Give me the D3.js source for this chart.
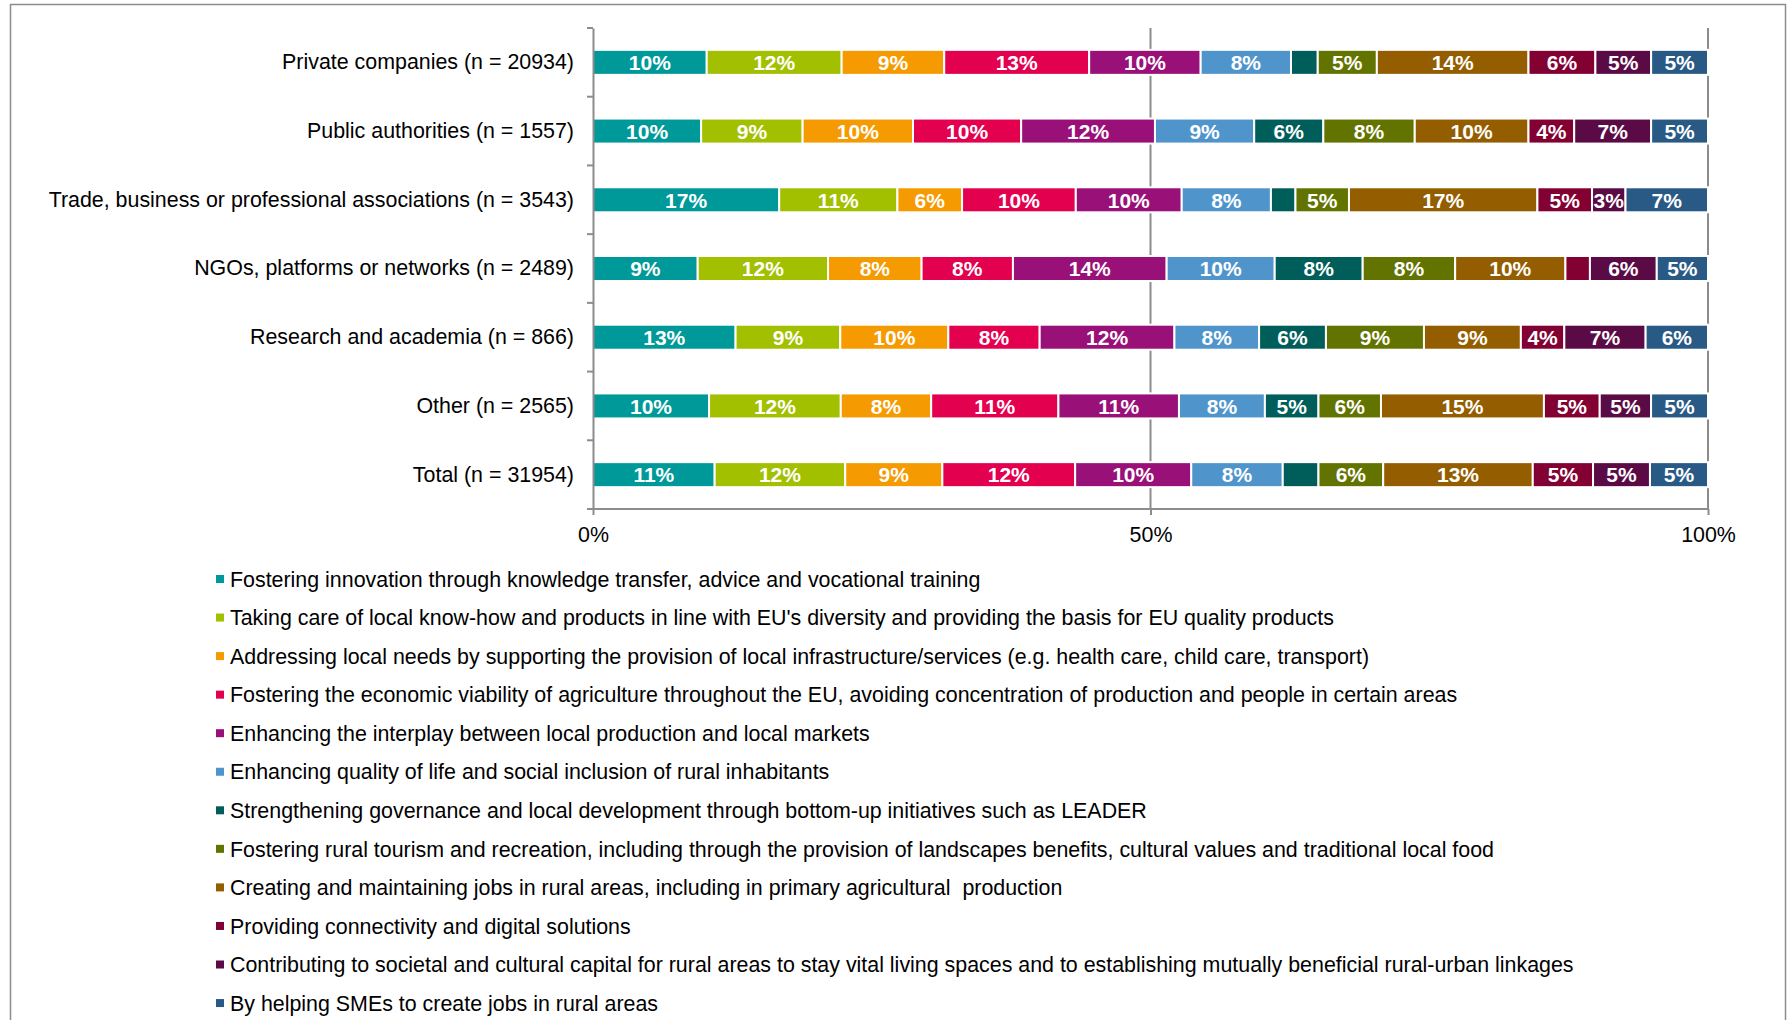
<!DOCTYPE html>
<html lang="en">

<head>
    <meta charset="UTF-8">
    <script src="https://d3js.org/d3.v7.min.js"></script>
    <title>Objectives by type of organisation</title>
    <style>
        body { margin: 0; background: #fff; }
        text { font-family: "Liberation Sans", Arial, sans-serif; }
    </style>
</head>

<body>
    <div id="container"></div>
    <script>
        const width = 1787, height = 1020;

        // categories (top to bottom)
        const categories = [
            "Private companies (n = 20934)",
            "Public authorities (n = 1557)",
            "Trade, business or professional associations (n = 3543)",
            "NGOs, platforms or networks (n = 2489)",
            "Research and academia (n = 866)",
            "Other (n = 2565)",
            "Total (n = 31954)"
        ];

        // series (legend order = stacking order)
        const seriesNames = [
            "Fostering innovation through knowledge transfer, advice and vocational training",
            "Taking care of local know-how and products in line with EU's diversity and providing the basis for EU quality products",
            "Addressing local needs by supporting the provision of local infrastructure/services (e.g. health care, child care, transport)",
            "Fostering the economic viability of agriculture throughout the EU, avoiding concentration of production and people in certain areas",
            "Enhancing the interplay between local production and local markets",
            "Enhancing quality of life and social inclusion of rural inhabitants",
            "Strengthening governance and local development through bottom-up initiatives such as LEADER",
            "Fostering rural tourism and recreation, including through the provision of landscapes benefits, cultural values and traditional local food",
            "Creating and maintaining jobs in rural areas, including in primary agricultural  production",
            "Providing connectivity and digital solutions",
            "Contributing to societal and cultural capital for rural areas to stay vital living spaces and to establishing mutually beneficial rural-urban linkages",
            "By helping SMEs to create jobs in rural areas"
        ];

        const colors = ["#009999", "#a2c000", "#f59a00", "#e3004f", "#991078", "#4f95cc",
            "#005e5a", "#627300", "#935d00", "#820032", "#5a0a45", "#285a85"];

        // shares (%) per category, one value per series
        const privateCompanies = [10.2, 12.1, 9.2, 13.0, 10.0, 8.1, 2.4, 5.3, 13.6, 6.0, 5.0, 5.1];
        const publicAuthorities = [9.7, 9.1, 9.9, 9.7, 12.0, 8.9, 6.2, 8.2, 10.2, 4.1, 6.9, 5.1];
        const tradeAssociations = [16.7, 10.6, 5.8, 10.2, 9.5, 8.0, 2.2, 4.8, 16.9, 4.9, 3.0, 7.4];
        const ngos = [9.4, 11.7, 8.4, 8.2, 13.8, 9.7, 7.9, 8.3, 9.9, 2.2, 6.0, 4.6];
        const research = [12.8, 9.4, 9.7, 8.2, 12.1, 7.6, 6.0, 8.8, 8.7, 3.9, 7.3, 5.6];
        const other = [10.4, 11.8, 8.1, 11.4, 10.8, 7.7, 4.8, 5.6, 14.6, 5.0, 4.6, 5.1];
        const total = [10.9, 11.7, 8.7, 11.9, 10.4, 8.2, 3.2, 5.8, 13.4, 5.4, 5.1, 5.2];
        const shares = [privateCompanies, publicAuthorities, tradeAssociations, ngos, research, other, total];

        // segments without a data label: [category index, series index]
        const hiddenLabels = [[0, 6], [2, 6], [3, 9], [6, 6]];

        const xTicks = [0, 50, 100];

        const svg = d3.select("#container")
            .append("svg")
            .attr("width", width)
            .attr("height", height);

        svg.append("rect")
            .attr("width", width)
            .attr("height", height)
            .attr("fill", "#fff");

        // outer frame
        svg.append("rect")
            .attr("x", 10.5)
            .attr("y", 4.5)
            .attr("width", 1775)
            .attr("height", 1100)
            .attr("fill", "none")
            .attr("stroke", "#8c8c8c")
            .attr("stroke-width", 1.5);

        const x = d3.scaleLinear()
            .domain([0, 100])
            .range([593, 1708]);
        const y = d3.scaleBand()
            .domain(categories)
            .range([28, 509])
            .paddingInner(0.636)
            .paddingOuter(0.318);

        // table for d3.stack, normalised to 100%
        const table = categories.map((c, i) => {
            const sum = d3.sum(shares[i]);
            const row = { category: c };
            seriesNames.forEach((s, j) => row[s] = shares[i][j] / sum * 100);
            return row;
        });
        const stacked = d3.stack().keys(seriesNames)(table);

        // gridlines
        svg.append("g")
            .selectAll("line")
            .data(xTicks.filter(d => d > 0))
            .enter()
            .append("line")
            .attr("x1", d => x(d))
            .attr("x2", d => x(d))
            .attr("y1", 28)
            .attr("y2", 509)
            .attr("stroke", "#8c8c8c")
            .attr("stroke-width", 2);

        // bars
        const groups = svg.append("g")
            .selectAll("g")
            .data(stacked)
            .enter()
            .append("g")
            .attr("fill", (d, i) => colors[i]);
        groups.selectAll("rect")
            .data(d => d)
            .enter()
            .append("rect")
            .attr("x", d => x(d[0]))
            .attr("y", d => y(d.data.category))
            .attr("width", d => x(d[1]) - x(d[0]))
            .attr("height", y.bandwidth())
            .attr("stroke", "#fff")
            .attr("stroke-width", 2);

        // data labels
        const isHidden = (ci, si) => hiddenLabels.some(h => h[0] == ci && h[1] == si);
        svg.append("g")
            .attr("text-anchor", "middle")
            .attr("font-size", 21)
            .attr("font-weight", "bold")
            .attr("fill", "#fff")
            .selectAll("g")
            .data(stacked)
            .enter()
            .append("g")
            .selectAll("text")
            .data((d, si) => d.map((v, ci) => ({ v, si, ci })).filter(o => !isHidden(o.ci, o.si)))
            .enter()
            .append("text")
            .attr("x", o => (x(o.v[0]) + x(o.v[1])) / 2)
            .attr("y", o => y(o.v.data.category) + y.bandwidth() / 2)
            .attr("dy", "0.37em")
            .text(o => Math.round(shares[o.ci][o.si]) + "%");

        // x axis
        const xAxis = svg.append("g")
            .attr("transform", "translate(0,509)")
            .call(d3.axisBottom(x)
                .tickValues(xTicks)
                .tickFormat(d => d + "%")
                .tickSizeInner(6)
                .tickSizeOuter(0)
                .tickPadding(12));
        xAxis.select(".domain").attr("stroke", "#8c8c8c").attr("stroke-width", 2)
            .attr("d", "M587,0H1708");
        xAxis.selectAll(".tick line").attr("stroke", "#8c8c8c").attr("stroke-width", 2);
        xAxis.selectAll(".tick text")
            .attr("font-size", 21.4)
            .attr("font-family", "Liberation Sans, Arial, sans-serif")
            .attr("fill", "#000");

        // y axis
        const yAxis = svg.append("g")
            .attr("transform", "translate(593,0)")
            .call(d3.axisLeft(y).tickSize(0).tickPadding(19));
        yAxis.select(".domain").attr("stroke", "#8c8c8c").attr("stroke-width", 2);
        yAxis.selectAll(".tick text")
            .attr("font-size", 21.4)
            .attr("font-family", "Liberation Sans, Arial, sans-serif")
            .attr("fill", "#000");
        // tick marks between categories
        yAxis.append("g")
            .selectAll("line")
            .data(d3.range(categories.length + 1))
            .enter()
            .append("line")
            .attr("x1", -6)
            .attr("x2", 0)
            .attr("y1", i => 28 + i * y.step())
            .attr("y2", i => 28 + i * y.step())
            .attr("stroke", "#8c8c8c")
            .attr("stroke-width", 2);

        // legend
        const legend = svg.append("g")
            .selectAll("g")
            .data(seriesNames)
            .enter()
            .append("g")
            .attr("transform", (d, i) => `translate(216,${579 + i * 38.55})`);
        legend.append("rect")
            .attr("x", 0)
            .attr("y", -4)
            .attr("width", 8)
            .attr("height", 8)
            .attr("fill", (d, i) => colors[i]);
        legend.append("text")
            .attr("x", 14)
            .attr("dy", "0.36em")
            .attr("font-size", 21.4)
            .attr("fill", "#000")
            .style("white-space", "pre")
            .text(d => d);
    </script>
</body>

</html>
